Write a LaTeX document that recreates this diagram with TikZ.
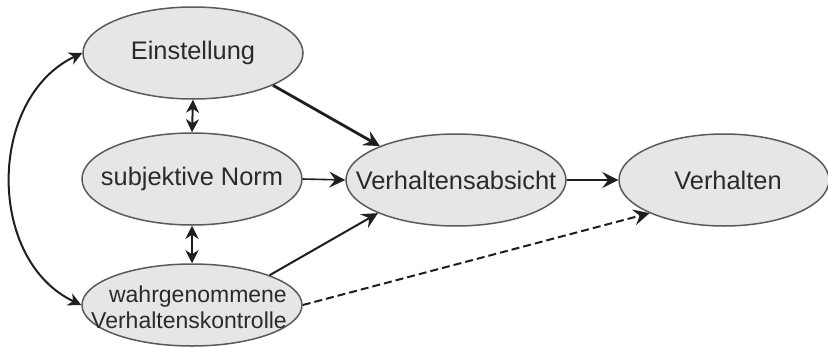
\documentclass[tikz,border=0pt]{standalone}
\usepackage{fontspec}
\setmainfont{Liberation Sans}
\usetikzlibrary{shapes.geometric, arrows.meta}
\definecolor{fillg}{HTML}{E6E6E6}
\definecolor{lineg}{HTML}{5A5A5A}
\definecolor{txt}{HTML}{2A2A2A}
\begin{document}
\begin{tikzpicture}[x=0.5pt,y=-0.5pt,
  oval/.style={ellipse, draw=lineg, fill=fillg, line width=0.75pt,
    minimum width=110pt, minimum height=46pt, inner sep=0pt},
  lbl/.style={text=txt, font=\fontsize{12.7}{13.5}\selectfont, inner sep=0pt},
  conn/.style={draw=black!88, line width=1pt, -{Stealth[length=8pt, width=8pt, inset=3pt]}},
  both/.style={draw=black!88, line width=1pt,
    {Stealth[length=6.5pt, width=6.5pt, inset=2pt]}-{Stealth[length=6.5pt, width=6.5pt, inset=2pt]}}
]
\useasboundingbox (0,0) rectangle (828,348);
\node[oval, label={[lbl]center:Einstellung}] (e) at (193,53) {};
\node[oval, label={[lbl]center:subjektive Norm}] (n) at (192,179) {};
\node[oval, minimum height=41pt, label={[lbl, font=\fontsize{11.5}{13}\selectfont, align=right, xshift=-1.5pt, yshift=-1pt]center:wahrgenommene\\Verhaltenskontrolle}] (w) at (192,305) {};
\node[oval, label={[lbl]center:Verhaltensabsicht}] (v) at (456,180) {};
\node[oval, minimum width=105pt, label={[lbl, xshift=2pt]center:Verhalten}] (b) at (724,180) {};

\draw[conn, line width=1.4pt] (e.-22.6) -- (v.156.5);
\draw[conn, line width=0.8pt] (n.east) -- (v.west);
\draw[conn] (w.21) -- (v.203.5);
\draw[conn, line width=0.8pt] (v.east) -- (b.west);
\draw[conn, dashed, dash pattern=on 4pt off 2pt] (w.east) -- (b.204.9);
\draw[both] (e.south) -- (n.north);
\draw[both] (n.south) -- (w.north);
\draw[both] (e.west) .. controls +(-95,45) and +(-95,-45) .. (w.west);
\end{tikzpicture}
\end{document}
